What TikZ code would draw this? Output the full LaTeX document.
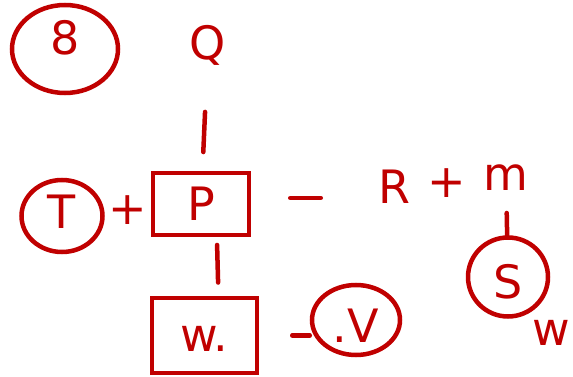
\documentclass[tikz,border=0pt]{standalone}
\usepackage{fontspec}
\setmainfont{DejaVu Sans}
\usetikzlibrary{shapes.geometric}
\definecolor{ink}{RGB}{192,0,0}
\begin{document}
\begin{tikzpicture}[x=1pt, y=-1pt, ink, line width=4.5pt, line cap=round,
  txt/.style={text=ink, font=\fontsize{46}{50}\selectfont, inner sep=2pt},
  circ/.style={txt, draw, ellipse, inner sep=0pt},
  box/.style={txt, draw, rectangle, inner sep=0pt},
  link/.style={draw}]
\useasboundingbox (0,0) rectangle (573,377);
\node[circ, minimum width=106pt, minimum height=88pt](d8) at (65,49) {\raisebox{11pt}[\height][\depth]{8}};
\node[txt](q) at (208,45) {Q};
\node[circ, minimum width=81pt, minimum height=72pt](t) at (62,216) {\raisebox{4pt}[\height][\depth]{T}};
\node[box, minimum width=96pt, minimum height=62pt](p) at (201,204) {P};
\node[box, minimum width=105pt, minimum height=75pt](w) at (204.5,335.5) {\raisebox{-3pt}[\height][\depth]{w.}};
\node[circ, minimum width=88pt, minimum height=70pt](v) at (356,320) {\raisebox{-6pt}[\height][\depth]{.V}};
\node[txt](r) at (394,187) {R};
\node[txt](m) at (506,178) {m};
\node[circ, minimum width=80pt, minimum height=79pt](s) at (508,277) {\raisebox{-5pt}[\height][\depth]{S}};
\node[txt, anchor=east, inner sep=0pt](w2) at (572,333) {w};
\draw[link, shorten <=67pt, shorten >=52pt] (q.center) -- (p.center);
\draw[link, shorten <=41pt, shorten >=53pt] ([xshift=15pt]p.center) -- ([xshift=15pt]w.center);
\draw[link, shorten <=39pt, shorten >=53pt] ([yshift=6pt]p.east) -- ([yshift=6pt]p.east -| r.west);
\path (t) edge[draw=none] node[txt]{+} (p);
\path (r) edge[draw=none] node[txt]{+} (m);
\draw[link, shorten <=35pt, shorten >=40pt] (m.center) -- (s.center);
\draw[link, shorten <=33pt] (w.east) -- (w.east -| v.west);
\end{tikzpicture}
\end{document}
